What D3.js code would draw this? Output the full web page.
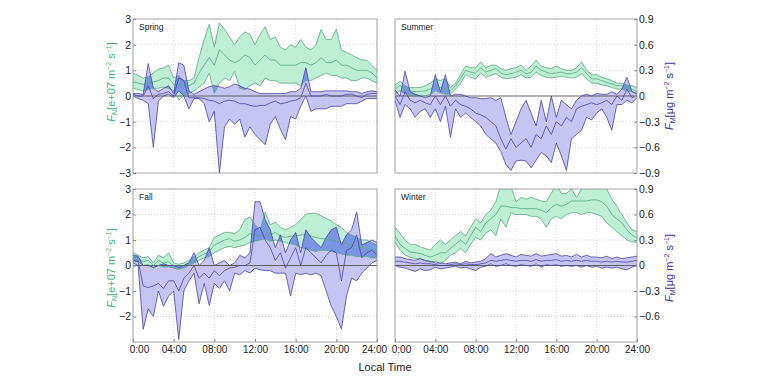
<!DOCTYPE html>
<html>
<head>
<meta charset="utf-8">
<script src="https://cdn.jsdelivr.net/npm/d3@7"></script>
<style>
body { margin: 0; background: #fff; }
svg { display: block; font-family: "Liberation Sans", Arial, sans-serif; }
</style>
</head>
<body>
<svg id="chart" width="760" height="380"></svg>
<script>
// half-hour steps, 0:00 .. 24:00
var hours = d3.range(0, 24.5, 0.5);
var seasons = ['Spring', 'Summer', 'Fall', 'Winter'];
var timeTicks = [0, 4, 8, 12, 16, 20, 24];
var nTicks = [3, 2, 1, 0, -1, -2, -3];
var mTicks = [0.9, 0.6, 0.3, 0, -0.3, -0.6, -0.9];

// F_N [e+07 m-2 s-1] : upper / median / lower
var springNU = [0.9,0.8,0.7,0.75,0.9,1.05,1.1,1.2,0.7,0.8, 0.6,0.6,0.7,1.5,2.2,2.8,1.9,2.85,2.6,2.3, 2.0,2.3,2.5,2.4,2.0,2.4,2.7,2.2,2.3,1.9, 1.8,2.0,1.9,2.2,1.9,1.8,2.0,2.6,2.2,2.2, 2.6,1.8,1.7,1.6,1.5,1.4,1.4,1.2,1.0];
var springNM = [0.55,0.5,0.45,0.5,0.55,0.6,0.7,0.7,0.45,0.45, 0.4,0.4,0.5,0.9,1.2,1.5,1.2,1.8,1.6,1.4, 1.3,1.4,1.6,1.5,1.2,1.4,1.6,1.4,1.4,1.2, 1.2,1.2,1.2,1.3,1.3,1.2,1.3,1.5,1.3,1.3, 1.4,1.2,1.2,1.1,1.0,1.0,1.0,0.9,0.7];
var springNL = [0.3,0.25,0.2,0.25,0.3,0.3,0.35,0.3,0.2,-0.15, 0.0,0.1,0.2,0.35,0.5,0.9,0.1,0.5,0.7,0.6, 0.95,0.3,0.25,0.4,0.5,0.4,0.7,0.6,0.6,0.5, 0.5,0.5,0.5,0.4,0.6,0.6,0.7,0.8,0.9,0.8, 0.8,0.7,0.7,0.6,0.6,0.7,0.7,0.6,0.5];

var summerNU = [0.43,0.57,0.4,0.33,0.33,0.33,0.4,0.5,0.67,0.6, 0.67,0.33,0.5,0.83,1.17,1.1,1.1,1.33,1.1,1.2, 1.2,1.07,1.0,1.07,1.1,1.2,1.0,1.17,1.4,1.17, 1.1,1.07,1.17,1.07,1.0,1.0,1.1,1.33,1.0,0.83, 0.83,0.73,0.67,0.6,0.5,0.5,0.43,0.4,0.33];
var summerNM = [0.27,0.4,0.27,0.2,0.17,0.17,0.2,0.27,0.4,0.33, 0.27,0.2,0.4,0.67,1.0,0.93,0.9,1.1,0.93,1.0, 1.07,0.9,0.83,0.87,0.93,1.0,0.87,0.93,1.17,1.0, 0.93,0.87,0.9,0.93,0.87,0.87,0.93,1.1,0.87,0.67, 0.67,0.6,0.53,0.47,0.4,0.4,0.33,0.27,0.17];
var summerNL = [0.07,0.2,0.1,0.03,0,0,0,0.07,0.2,0.13, 0.07,0.07,0.27,0.5,0.83,0.73,0.67,0.9,0.73,0.8, 0.87,0.73,0.67,0.7,0.73,0.83,0.7,0.73,0.93,0.8, 0.73,0.7,0.73,0.77,0.73,0.7,0.73,0.87,0.67,0.5, 0.5,0.43,0.4,0.33,0.27,0.27,0.2,0.17,0.07];

var fallNU = [0.5,0.4,0.3,0.35,0.1,0.4,0.3,0.5,0.1,0.05, 0.1,0.2,0.35,0.5,0.6,0.7,1.1,1.2,1.3,1.3, 1.25,1.4,1.8,1.9,1.6,1.4,2.1,1.6,1.7,1.5, 1.4,1.5,1.6,1.8,2.0,2.05,2.05,1.95,1.85,1.75, 1.6,1.5,1.3,1.2,1.1,1.0,1.0,0.9,0.8];
var fallNM = [0.35,0.3,0.15,0.2,0,0.2,0.1,0.15,0,-0.05, 0,0.1,0.2,0.35,0.45,0.55,0.8,0.9,1.0,1.05, 0.95,1.0,1.1,1.25,1.2,1.15,1.4,1.2,1.3,1.15, 1.1,1.15,1.15,1.2,1.2,1.15,1.1,1.05,1.05,1.0, 0.95,0.9,0.85,0.8,0.75,0.7,0.7,0.6,0.55];
var fallNL = [0.15,0.15,0,0.05,-0.1,0,-0.05,-0.05,-0.1,-0.15, -0.1,0,0.1,0.2,0.3,0.35,0.5,0.6,0.7,0.75, 0.7,0.75,0.8,0.9,0.95,1.0,1.05,0.95,1.0,0.95, 0.9,0.85,0.8,0.7,0.65,0.6,0.55,0.6,0.6,0.55, 0.5,0.45,0.4,0.4,0.35,0.35,0.35,0.3,0.3];

var winterNU = [1.5,1.27,1.0,0.83,0.83,0.73,0.67,0.6,0.83,1.0, 0.83,1.0,1.17,1.33,1.17,1.5,1.83,1.67,2.0,2.17, 2.5,3.17,3.0,3.1,2.5,2.67,2.6,2.67,2.6,2.53, 2.5,2.83,3.17,2.83,2.83,3.0,2.67,3.0,3.17,3.17, 3.17,3.17,3.0,2.6,2.33,2.0,1.67,1.4,1.33];
var winterNM = [1.17,0.83,0.67,0.53,0.5,0.47,0.4,0.33,0.4,0.5, 0.5,0.67,0.83,1.0,0.83,1.17,1.5,1.33,1.67,1.83, 2.0,2.33,2.33,2.27,2.27,2.23,2.23,2.23,2.23,2.17, 2.07,2.27,2.4,2.33,2.4,2.53,2.53,2.53,2.53,2.57, 2.57,2.5,2.33,2.0,1.83,1.67,1.4,1.2,1.07];
var winterNL = [0.93,0.6,0.4,0.33,0.27,0.27,0.17,0.13,0.17,0.07, 0.2,0.4,0.5,0.67,0.5,0.83,1.1,1.0,1.27,1.4, 1.17,1.83,1.5,2.07,2.0,2.0,2.0,1.93,1.93,1.83, 1.5,1.83,1.93,1.83,2.0,2.07,2.07,2.0,2.07,2.07, 2.0,1.93,1.67,1.5,1.33,1.17,1.0,0.93,0.9];

// F_M [ug m-2 s-1] : upper / median / lower
var springMU = [0.03,0.03,0.02,0.38,0.09,0.05,0.09,0.12,0.03,0.39, 0.36,0.06,0.02,0.05,0.08,0.11,0.12,0.11,0.09,0.11, 0.14,0.12,0.09,0.08,0.05,0.03,0.03,0.03,0.03,0.03, 0.03,0.05,0.05,0.09,0.33,0.05,0.05,0.05,0.06,0.06, 0.06,0.06,0.06,0.05,0.05,0.03,0.05,0.06,0.05];
var springMM = [0.02,0,0,0.12,-0.03,0.02,0.03,0.05,0,0.21, 0.18,-0.02,-0.02,-0.02,-0.03,-0.05,-0.06,-0.09,-0.06,-0.05, -0.06,-0.09,-0.09,-0.11,-0.12,-0.11,-0.11,-0.08,-0.06,-0.09, -0.08,-0.06,-0.05,-0.02,0.15,0,0,0,0.02,0, 0,0,0.02,0.02,0,-0.02,0.02,0.03,0.03];
var springML = [0,-0.03,-0.05,-0.09,-0.6,-0.06,0,0.02,-0.02,0.06, 0,-0.15,-0.03,-0.03,-0.09,-0.3,-0.18,-0.9,-0.36,-0.27, -0.33,-0.27,-0.48,-0.36,-0.45,-0.51,-0.57,-0.33,-0.24,-0.39, -0.51,-0.24,-0.27,-0.12,0,-0.18,-0.15,-0.15,-0.15,-0.12, -0.12,-0.12,-0.09,-0.09,-0.09,-0.06,-0.03,-0.03,-0.03];

var summerMU = [0.07,0,0.29,0.05,0.02,0,-0.02,0,0.25,0.05, 0.25,0,0.02,0.02,0,-0.02,-0.02,-0.03,-0.03,-0.02, -0.05,-0.02,-0.25,-0.45,-0.3,-0.15,-0.05,-0.2,-0.35,-0.05, -0.3,0,-0.25,-0.05,-0.1,-0.15,-0.05,0,0.02,0, 0.03,0.02,0.02,0.05,0.02,0.08,0.22,0.05,0.03];
var summerMM = [0,-0.1,0.05,-0.05,-0.08,-0.05,-0.08,-0.1,0,-0.1, 0,-0.12,-0.05,-0.1,-0.12,-0.15,-0.2,-0.22,-0.25,-0.3, -0.35,-0.5,-0.62,-0.5,-0.6,-0.55,-0.5,-0.6,-0.45,-0.5, -0.35,-0.45,-0.3,-0.35,-0.25,-0.3,-0.15,-0.12,-0.1,-0.08, -0.1,-0.08,-0.05,-0.1,0,-0.05,0.08,-0.02,0];
var summerML = [-0.05,-0.25,-0.1,-0.15,-0.25,-0.18,-0.15,-0.25,-0.15,-0.3, -0.12,-0.48,-0.15,-0.25,-0.2,-0.25,-0.3,-0.35,-0.45,-0.5, -0.55,-0.65,-0.8,-0.87,-0.76,-0.75,-0.76,-0.84,-0.75,-0.66, -0.7,-0.78,-0.55,-0.7,-0.87,-0.5,-0.45,-0.4,-0.25,-0.28, -0.2,-0.15,-0.25,-0.4,-0.1,-0.1,-0.05,-0.08,-0.02];

var fallMU = [0.12,0.11,0,0,-0.02,0,0.02,0,0,-0.02, 0,0.03,0.15,0,0.06,0.21,0,0.03,0.06,0, 0.03,0.12,0.09,0.15,0.75,0.75,0.54,0.42,0.21,0.36, 0.15,0.3,0.39,0.15,0.42,0.33,0.27,0.21,0.33,0.42, 0.45,0.24,0.36,0.42,0.63,0.24,0.27,0.3,0.27];
var fallMM = [0.06,0.05,-0.24,-0.26,-0.24,-0.21,-0.27,-0.18,-0.18,-0.3, -0.15,-0.09,0,-0.15,-0.09,-0.15,-0.06,-0.12,-0.06,-0.03, -0.02,0,0,0.03,0.42,0.45,0.3,0.21,0.06,0.15, -0.03,0.09,0.21,0,0.21,0.15,0.09,0.03,0.12,0.18, 0.15,-0.18,0.18,0.21,0.36,0.09,0.15,0.18,0.12];
var fallML = [0.03,0,-0.75,-0.51,-0.6,-0.3,-0.48,-0.36,-0.3,-0.87, -0.3,-0.18,-0.09,-0.45,-0.21,-0.47,-0.21,-0.27,-0.18,-0.3, -0.09,-0.11,-0.06,-0.09,-0.03,-0.05,-0.06,-0.06,-0.09,-0.09, -0.09,-0.36,-0.09,-0.11,-0.09,-0.11,-0.09,-0.12,-0.3,-0.48, -0.6,-0.75,-0.36,-0.15,-0.18,-0.09,-0.03,0.03,0.06];

var winterMU = [0.1,0.1,0.08,0.07,0.06,0.08,0.06,0.05,0.03,0.03, 0.02,0.03,0.04,0.02,0.05,0.03,0.04,0.05,0.08,0.14, 0.1,0.12,0.14,0.12,0.1,0.13,0.12,0.11,0.14,0.11, 0.12,0.13,0.14,0.11,0.12,0.1,0.13,0.1,0.12,0.1, 0.1,0.09,0.11,0.08,0.1,0.08,0.09,0.1,0.11];
var winterMM = [0.05,0.05,0.04,0.03,0.02,0.03,0.02,0.02,0.01,0, 0,0.01,0.02,0.01,0.02,0.01,0.01,0.02,0.03,0.06, 0.05,0.06,0.07,0.06,0.05,0.06,0.06,0.05,0.07,0.05, 0.06,0.06,0.07,0.05,0.06,0.05,0.06,0.05,0.06,0.05, 0.05,0.04,0.05,0.04,0.05,0.04,0.04,0.05,0.06];
var winterML = [0,-0.02,-0.03,-0.05,-0.07,-0.04,-0.06,-0.05,-0.02,-0.04, -0.03,-0.02,-0.01,-0.03,-0.02,-0.04,-0.06,-0.02,-0.01,0.02, -0.01,0,0.02,0,-0.01,0.01,0,-0.01,0.02,-0.02, 0.01,0,0.01,-0.01,0,-0.01,0,-0.02,0,-0.02, -0.01,-0.03,-0.02,-0.03,-0.02,-0.04,-0.05,-0.02,0];

var nData = [[springNU, springNM, springNL], [summerNU, summerNM, summerNL], [fallNU, fallNM, fallNL], [winterNU, winterNM, winterNL]];
var mData = [[springMU, springMM, springML], [summerMU, summerMM, summerML], [fallMU, fallMM, fallML], [winterMU, winterMM, winterML]];

var colX = [[133, 377], [395, 637]];
var rowY = [[19, 173], [189, 342]];

var greenFill = '#bdefd5', greenLine = '#5aa882', greenText = '#3fb57a';
var purpFill = '#c6c4f3', purpLine = '#4a44a6', purpText = '#3a33a0';
var overlapFill = '#7896e4';

var svg = d3.select('#chart');
var defs = svg.append('defs');

function minus(s) { return String(s).replace('-', '\u2212'); }
function timeLabel(h) { return h === 0 ? '0:00' : d3.format('02d')(h) + ':00'; }

function fluxTitle(x, y, sub, unit, color) {
  var t = svg.append('text')
    .attr('transform', 'translate(' + x + ',' + y + ') rotate(-90)')
    .attr('text-anchor', 'middle')
    .attr('fill', color)
    .style('font-size', '11px');
  t.append('tspan').style('font-style', 'italic').text('F');
  t.append('tspan').attr('dy', 2).style('font-size', '7px').text(sub);
  t.append('tspan').attr('dy', -2).text('[' + unit + ' m');
  t.append('tspan').attr('dy', -4).style('font-size', '7px').text('\u22122');
  t.append('tspan').attr('dy', 4).text(' s');
  t.append('tspan').attr('dy', -4).style('font-size', '7px').text('\u22121');
  t.append('tspan').attr('dy', 4).text(']');
}

seasons.forEach(function(name, k) {
  var col = k % 2, row = Math.floor(k / 2);
  var x = d3.scaleLinear().domain([0, 24]).range(colX[col]);
  var yN = d3.scaleLinear().domain([-3, 3]).range([rowY[row][1], rowY[row][0]]);
  var yM = d3.scaleLinear().domain([-0.9, 0.9]).range([rowY[row][1], rowY[row][0]]);
  var N = nData[k], M = mData[k];

  var areaN = d3.area()
    .x(function(d, i) { return x(hours[i]); })
    .y0(function(d, i) { return yN(N[2][i]); })
    .y1(function(d, i) { return yN(N[0][i]); });
  var areaM = d3.area()
    .x(function(d, i) { return x(hours[i]); })
    .y0(function(d, i) { return yM(M[2][i]); })
    .y1(function(d, i) { return yM(M[0][i]); });
  var lineN = d3.line().x(function(d, i) { return x(hours[i]); }).y(function(d) { return yN(d); });
  var lineM = d3.line().x(function(d, i) { return x(hours[i]); }).y(function(d) { return yM(d); });

  defs.append('clipPath').attr('id', 'clip' + k)
    .append('rect')
    .attr('x', x.range()[0]).attr('y', rowY[row][0])
    .attr('width', x.range()[1] - x.range()[0]).attr('height', rowY[row][1] - rowY[row][0]);
  defs.append('clipPath').attr('id', 'band' + k)
    .append('path').attr('d', areaN(hours));

  var g = svg.append('g');

  // grid
  g.selectAll('.vgrid').data([4, 8, 12, 16, 20]).enter().append('line')
    .attr('x1', x).attr('x2', x)
    .attr('y1', rowY[row][0]).attr('y2', rowY[row][1])
    .attr('stroke', '#c4c4c4').attr('stroke-width', 0.7).attr('stroke-dasharray', '1,2');
  g.selectAll('.hgrid').data([-2, -1, 1, 2]).enter().append('line')
    .attr('x1', x.range()[0]).attr('x2', x.range()[1])
    .attr('y1', yN).attr('y2', yN)
    .attr('stroke', '#c4c4c4').attr('stroke-width', 0.7).attr('stroke-dasharray', '1,2');

  var p = g.append('g').attr('clip-path', 'url(#clip' + k + ')');
  p.append('path').attr('d', areaN(hours)).attr('fill', greenFill);
  p.append('path').attr('d', areaM(hours)).attr('fill', purpFill);
  p.append('path').attr('d', areaM(hours)).attr('fill', overlapFill)
    .attr('clip-path', 'url(#band' + k + ')');

  p.append('line')
    .attr('x1', x.range()[0]).attr('x2', x.range()[1])
    .attr('y1', yN(0)).attr('y2', yN(0))
    .attr('stroke', '#555').attr('stroke-width', 0.9);

  N.forEach(function(s) {
    p.append('path').attr('d', lineN(s)).attr('fill', 'none')
      .attr('stroke', greenLine).attr('stroke-width', 0.8);
  });
  M.forEach(function(s) {
    p.append('path').attr('d', lineM(s)).attr('fill', 'none')
      .attr('stroke', purpLine).attr('stroke-width', 0.8);
  });

  // frame
  g.append('rect')
    .attr('x', x.range()[0]).attr('y', rowY[row][0])
    .attr('width', x.range()[1] - x.range()[0]).attr('height', rowY[row][1] - rowY[row][0])
    .attr('fill', 'none').attr('stroke', '#8a8a8a').attr('stroke-width', 0.8);

  g.append('text')
    .attr('x', x.range()[0] + 6).attr('y', rowY[row][0] + 11)
    .style('font-size', '8.5px').attr('fill', '#222')
    .text(name);

  if (col === 0) {
    var ax = g.append('g').attr('transform', 'translate(' + x.range()[0] + ',0)')
      .call(d3.axisLeft(yN).tickValues(row === 0 ? nTicks : nTicks.slice(0, 6))
        .tickSize(-3).tickPadding(2).tickFormat(minus));
    ax.select('.domain').remove();
  } else {
    var ay = g.append('g').attr('transform', 'translate(' + x.range()[1] + ',0)')
      .call(d3.axisRight(yM).tickValues(row === 0 ? mTicks : mTicks.slice(0, 6))
        .tickSize(-3).tickPadding(2).tickFormat(minus));
    ay.select('.domain').remove();
  }
  g.selectAll('.tick text').style('font-size', '10.5px');
  if (row === 1) {
    var bx = g.append('g').attr('transform', 'translate(0,' + rowY[row][1] + ')')
      .call(d3.axisBottom(x).tickValues(timeTicks).tickSize(-3).tickPadding(4).tickFormat(timeLabel));
    bx.select('.domain').remove();
    bx.selectAll('.tick text').style('font-size', '10px');
    // keep the neighbouring 24:00 / 0:00 labels apart
    bx.selectAll('.tick text').filter(function(d) { return d === 0; }).attr('dx', 6);
    if (col === 0) bx.selectAll('.tick text').filter(function(d) { return d === 24; }).attr('dx', -3);
  }
  g.selectAll('.tick line').attr('stroke', '#8a8a8a');
  g.selectAll('.tick text').attr('fill', '#222')
    .style('font-family', '"Liberation Sans", Arial, sans-serif');
});

fluxTitle(115, 82, 'N', 'e+07', greenText);
fluxTitle(115, 268, 'N', 'e+07', greenText);
fluxTitle(673, 96, 'M', '\u03bcg', purpText);
fluxTitle(673, 268, 'M', '\u03bcg', purpText);

svg.append('text')
  .attr('x', 385).attr('y', 371)
  .attr('text-anchor', 'middle')
  .style('font-size', '11px').attr('fill', '#222')
  .text('Local Time');
</script>
</body>
</html>
